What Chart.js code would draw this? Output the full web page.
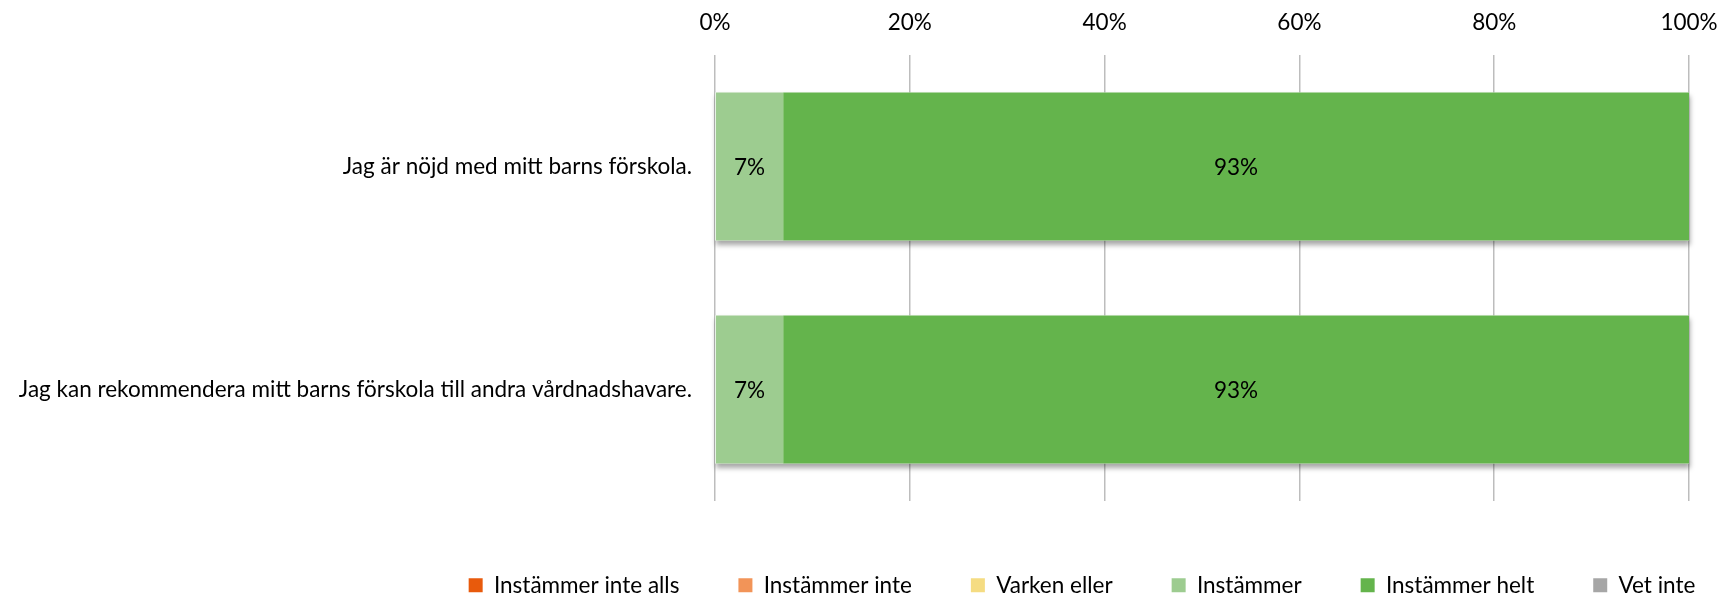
<!DOCTYPE html>
<html>
<head>
<meta charset="utf-8">
<script src="https://cdn.jsdelivr.net/npm/chart.js@4/dist/chart.umd.min.js"></script>
<style>
  html, body { margin: 0; padding: 0; background: #fff; }
  #wrap { width: 1722px; height: 597px; position: relative; }
</style>
</head>
<body>
<div id="wrap"><canvas id="c" width="1722" height="597"></canvas></div>
<script>
const categories = [
  'Jag är nöjd med mitt barns förskola.',
  'Jag kan rekommendera mitt barns förskola till andra vårdnadshavare.'
];
const seriesNames = ['Instämmer inte alls', 'Instämmer inte', 'Varken eller', 'Instämmer', 'Instämmer helt', 'Vet inte'];
const instammerInteAlls = [0, 0];
const instammerInte = [0, 0];
const varkenEller = [0, 0];
const instammer = [7, 7];
const instammerHelt = [93, 93];
const vetInte = [0, 0];
const xTickValues = [0, 20, 40, 60, 80, 100];

const seriesValues = [instammerInteAlls, instammerInte, varkenEller, instammer, instammerHelt, vetInte];
const seriesColors = ['#E85A0C', '#F29458', '#F5DC82', '#9DCC90', '#64B44C', '#A6A6A6'];

const FONT = 'Lato';
const FS = 22.5;

const shadowPlugin = {
  id: 'barShadow',
  beforeDatasetsDraw(chart) {
    const ctx = chart.ctx;
    const metas = chart.getSortedVisibleDatasetMetas();
    categories.forEach((c, i) => {
      let left = Infinity, right = -Infinity, top = 0, h = 0;
      metas.forEach(m => {
        const el = m.data[i];
        if (!el) return;
        const p = el.getProps(['x', 'y', 'base', 'height'], true);
        left = Math.min(left, p.base, p.x);
        right = Math.max(right, p.base, p.x);
        top = p.y - p.height / 2; h = p.height;
      });
      ctx.save();
      ctx.shadowColor = 'rgba(0,0,0,0.35)';
      ctx.shadowBlur = 5;
      ctx.shadowOffsetY = 4;
      ctx.shadowOffsetX = 1;
      ctx.fillStyle = '#ffffff';
      ctx.fillRect(left, top, right - left, h);
      ctx.restore();
    });
  },
  afterDatasetsDraw(chart) {
    const ctx = chart.ctx;
    ctx.save();
    ctx.font = FS + 'px ' + FONT;
    ctx.fillStyle = '#000';
    ctx.textAlign = 'center';
    ctx.textBaseline = 'middle';
    chart.data.datasets.forEach((ds, di) => {
      const meta = chart.getDatasetMeta(di);
      ds.data.forEach((v, i) => {
        if (!v) return;
        const el = meta.data[i];
        const p = el.getProps(['x', 'y', 'base'], true);
        ctx.fillText(v + '%', (p.x + p.base) / 2, p.y + 1);
      });
    });
    ctx.restore();
  }
};

new Chart(document.getElementById('c'), {
  type: 'bar',
  data: {
    labels: categories,
    datasets: seriesNames.map((n, k) => ({
      label: n,
      data: seriesValues[k],
      backgroundColor: seriesColors[k],
      borderWidth: 0,
      barPercentage: 1,
      categoryPercentage: 0.664
    }))
  },
  options: {
    indexAxis: 'y',
    responsive: false,
    animation: false,
    devicePixelRatio: 1,
    layout: { padding: { left: 0, right: -442, top: 0, bottom: 0 } },
    scales: {
      x: {
        position: 'top',
        stacked: true,
        min: 0,
        max: 100,
        afterBuildTicks(s) { s.ticks = xTickValues.map(v => ({ value: v })); },
        ticks: {
          callback: v => v + '%',
          color: '#000',
          font: { family: FONT, size: FS, lineHeight: 64 / FS },
          padding: 0,
          maxRotation: 0
        },
        grid: { color: '#BDBDBD', lineWidth: 1.5, drawTicks: false },
        border: { display: false },
        afterFit(s) { s.height = 55; }
      },
      y: {
        position: 'left',
        stacked: true,
        ticks: {
          color: '#000',
          font: { family: FONT, size: FS },
          padding: 23
        },
        grid: { display: false, drawTicks: false },
        border: { display: false },
        afterFit(s) { s.width = 715; }
      },
      rspace: {
        axis: 'y',
        type: 'linear',
        position: 'right',
        display: true,
        ticks: { display: false },
        grid: { display: false, drawTicks: false },
        border: { display: false },
        afterFit(s) { s.width = 475; }
      }
    },
    plugins: {
      legend: {
        position: 'bottom',
        align: 'center',
        maxHeight: 96,
        title: { display: true, text: '', font: { size: 1, lineHeight: 1 }, padding: { top: 13, bottom: 0 } },
        labels: {
          boxWidth: 14,
          boxHeight: 14,
          padding: 59,
          color: '#000',
          font: { family: FONT, size: FS }
        }
      },
      tooltip: { enabled: false }
    }
  },
  plugins: [shadowPlugin]
});
</script>
</body>
</html>
